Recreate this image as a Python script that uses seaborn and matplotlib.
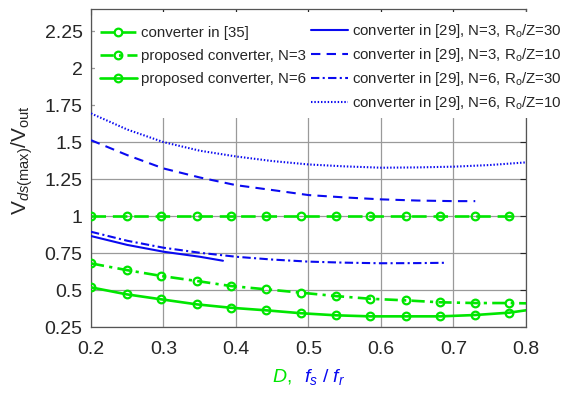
import matplotlib
matplotlib.use("Agg")
import matplotlib.pyplot as plt
import seaborn as sns
from matplotlib.patches import Rectangle

# ---------------- data ----------------
x_mark = [0.2, 0.249, 0.297, 0.346, 0.393, 0.441, 0.49, 0.538, 0.585, 0.634, 0.682, 0.73, 0.777]
x35 = x_mark + [0.786]
y35 = [1.0] * 14
x_prop = x_mark + [0.8]
y_prop3 = [0.680, 0.635, 0.595, 0.561, 0.527, 0.505, 0.482, 0.459, 0.441, 0.430, 0.417, 0.412, 0.412, 0.410]
y_prop6 = [0.518, 0.471, 0.437, 0.403, 0.380, 0.363, 0.343, 0.329, 0.322, 0.322, 0.322, 0.331, 0.347, 0.363]

x_n3_30 = [0.2, 0.25, 0.3, 0.35, 0.382]
y_n3_30 = [0.865, 0.805, 0.759, 0.725, 0.698]
x_n6_30 = [0.2, 0.25, 0.3, 0.35, 0.4, 0.45, 0.5, 0.55, 0.6, 0.65, 0.687]
y_n6_30 = [0.894, 0.833, 0.786, 0.752, 0.725, 0.706, 0.692, 0.685, 0.681, 0.682, 0.684]
x_n3_10 = [0.2, 0.25, 0.3, 0.35, 0.4, 0.45, 0.5, 0.55, 0.6, 0.65, 0.7, 0.73]
y_n3_10 = [1.513, 1.412, 1.322, 1.261, 1.209, 1.176, 1.142, 1.126, 1.113, 1.105, 1.101, 1.101]
x_n6_10 = [0.2, 0.25, 0.3, 0.35, 0.4, 0.45, 0.5, 0.55, 0.6, 0.65, 0.7, 0.75, 0.8]
y_n6_10 = [1.694, 1.585, 1.500, 1.442, 1.403, 1.372, 1.349, 1.336, 1.327, 1.329, 1.334, 1.345, 1.363]

labels_green = ["converter in [35]", "proposed converter, N=3", "proposed converter, N=6"]
labels_blue = [r"converter in [29], N=3, R$_\mathrm{o}$/Z=30",
               r"converter in [29], N=3, R$_\mathrm{o}$/Z=10",
               r"converter in [29], N=6, R$_\mathrm{o}$/Z=30",
               r"converter in [29], N=6, R$_\mathrm{o}$/Z=10"]
xticks = [0.2, 0.3, 0.4, 0.5, 0.6, 0.7, 0.8]
yticks = [0.25, 0.5, 0.75, 1, 1.25, 1.5, 1.75, 2, 2.25]
ytick_labels = ["0.25", "0.5", "0.75", "1", "1.25", "1.5", "1.75", "2", "2.25"]

# ---------------- style ----------------
sns.set_theme(style="white")
plt.rcParams["font.family"] = ["Liberation Sans", "DejaVu Sans"]
plt.rcParams["mathtext.fontset"] = "custom"
plt.rcParams["mathtext.rm"] = "Liberation Sans"
plt.rcParams["mathtext.it"] = "Liberation Sans:italic"
plt.rcParams["mathtext.bf"] = "Liberation Sans:bold"

GREEN = "#00e600"
BLUE = "#0a0af0"

fig = plt.figure(figsize=(5.62, 3.97), dpi=100)
ax = fig.add_axes([91 / 562, 1 - 327 / 397, 435 / 562, 318 / 397])

gkw = dict(color=GREEN, linewidth=1.9, marker="o", markersize=5.5,
           markerfacecolor="none", markeredgecolor=GREEN, markeredgewidth=1.6,
           markevery=list(range(13)), zorder=3)
sns.lineplot(x=x35, y=y35, ax=ax, linestyle=(0, (5.5, 2.6)), **gkw)
sns.lineplot(x=x_prop, y=y_prop3, ax=ax, linestyle=(0, (5, 2, 1.2, 2)), **gkw)
sns.lineplot(x=x_prop, y=y_prop6, ax=ax, linestyle="-", **gkw)

bkw = dict(color=BLUE, linewidth=1.5, zorder=3)
sns.lineplot(x=x_n3_30, y=y_n3_30, ax=ax, linestyle="-", **bkw)
sns.lineplot(x=x_n3_10, y=y_n3_10, ax=ax, linestyle=(0, (4.5, 3)), **bkw)
sns.lineplot(x=x_n6_30, y=y_n6_30, ax=ax, linestyle=(0, (4, 1.6, 1, 1.6)), **bkw)
sns.lineplot(x=x_n6_10, y=y_n6_10, ax=ax, linestyle=(0, (0.7, 0.9)), **bkw)

ax.set_xlim(0.2, 0.8)
ax.set_ylim(0.25, 2.4)
ax.set_xticks(xticks)
ax.set_xticklabels([f"{v:g}" for v in xticks])
ax.set_yticks(yticks)
ax.set_yticklabels(ytick_labels)
ax.tick_params(direction="in", length=4, width=0.8, labelsize=14, pad=6,
               top=True, right=True, colors="#262626")
ax.tick_params(axis="x", pad=10)
ax.grid(True, color="#9a9a9a", linewidth=0.9)
ax.set_axisbelow(True)
for s in ax.spines.values():
    s.set_color("#555555")
    s.set_linewidth(0.9)
ax.set_xlabel("")
ax.set_ylabel("")

# white legend background area (hides grid / right spine behind the legends)
bg = Rectangle((95 / 562, 1 - 118 / 397), (562 - 95) / 562, (118 - 12) / 397,
               transform=fig.transFigure, facecolor="white", edgecolor="none",
               zorder=2.7, clip_on=False)
ax.add_patch(bg)

lines = ax.get_lines()
common = dict(loc="upper left", bbox_transform=fig.transFigure, fontsize=10.8,
              frameon=False, borderpad=0, borderaxespad=0,
              handlelength=2.45, handletextpad=0.3)
leg1 = ax.legend(lines[:3], labels_green, bbox_to_anchor=(100 / 562, 1 - 26 / 397),
                 labelspacing=0.6, **common)
leg1.set_zorder(6)
ax.add_artist(leg1)
leg2 = ax.legend(lines[3:], labels_blue, bbox_to_anchor=(311 / 562, 1 - 22 / 397),
                 labelspacing=0.4, **common)
leg2.set_zorder(6)
for lg in (leg1, leg2):
    for t in lg.get_texts():
        t.set_color("#262626")

# axis labels
fig.text(22 / 562, 1 - 160 / 397,
         r"$\mathrm{V}_{ds\mathrm{(max)}}\mathrm{/V}_{\mathrm{out}}$",
         rotation=90, ha="center", va="center", fontsize=15, color="#262626")
fig.text(272 / 562, 1 - 382 / 397, r"$D$,", color=GREEN, fontsize=14, va="baseline")
fig.text(304 / 562, 1 - 382 / 397, r"$f_s\ /\ f_r$", color=BLUE, fontsize=14, va="baseline")

fig.savefig("out.png", dpi=100)
